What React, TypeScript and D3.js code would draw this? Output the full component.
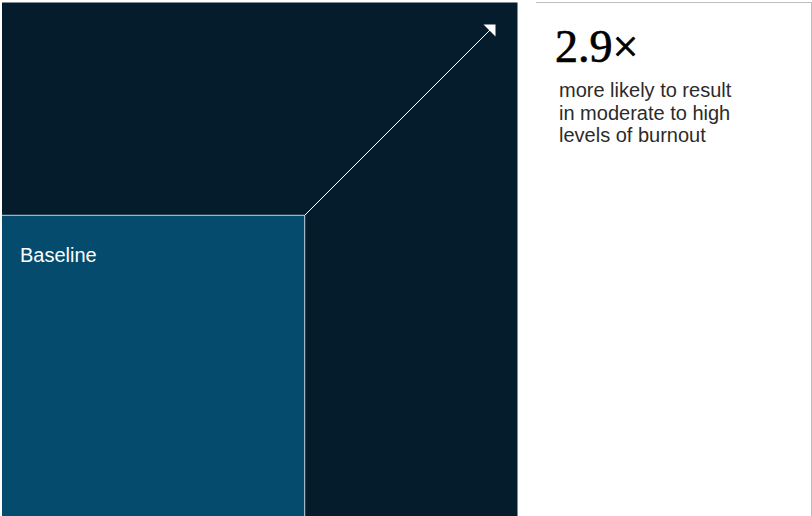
import React from "react";
import * as d3 from "d3";

const categories = ["Baseline", "Comparison"];
const values = [1, 2.9];
const headline = "2.9×";
const descriptionLines = ["more likely to result", "in moderate to high", "levels of burnout"];

const W = 812;
const H = 516;

export default function App() {
  const side = d3.scaleSqrt().domain([0, 2.9]).range([0, 515.5]);
  const x0 = 2;
  const yBottom = 518;
  const sBase = side(values[0]);
  const sComp = side(values[1]);

  const outer = { x: x0, y: yBottom - sComp, w: sComp, h: sComp };
  const inner = { x: x0, y: yBottom - sBase, w: sBase, h: sBase };

  const startX = inner.x + inner.w;
  const startY = inner.y;
  const inset = 22;
  const endX = outer.x + outer.w - inset;
  const endY = outer.y + inset;
  const head = 12;
  const lineEnd = [endX - 5, endY + 5];

  const line = d3.line();

  return (
    <div style={{ position: "absolute", left: 0, top: 0 }}>
      <svg width={W} height={H} style={{ display: "block" }}>
        <rect x={0} y={0} width={W} height={H} fill="#ffffff" />
        <rect x={outer.x} y={outer.y} width={outer.w} height={outer.h} fill="#051c2c" />
        <rect x={inner.x} y={inner.y} width={inner.w} height={inner.h} fill="#044b6e" />
        <path
          d={line([
            [inner.x, inner.y],
            [inner.x + inner.w, inner.y],
            [inner.x + inner.w, inner.y + inner.h],
          ]) || ""}
          fill="none"
          stroke="#c9d6df"
          strokeWidth={1}
        />
        <path
          d={line([[startX, startY], lineEnd as [number, number]]) || ""}
          stroke="#ffffff"
          strokeWidth={1}
          fill="none"
        />
        <path
          d={line([
            [endX - head, endY],
            [endX, endY],
            [endX, endY + head],
          ]) + "Z"}
          fill="#ffffff"
        />
        <text
          x={inner.x + 18}
          y={inner.y + 47}
          fill="#ffffff"
          fontFamily="Liberation Sans, Arial, sans-serif"
          fontSize={20}
        >
          {categories[0]}
        </text>

        <line x1={536} x2={811} y1={2.5} y2={2.5} stroke="#bdbdbd" strokeWidth={1} />
        <line x1={811.5} x2={811.5} y1={2} y2={H} stroke="#bdbdbd" strokeWidth={1} />

        <text
          x={555}
          y={62}
          fill="#000000"
          stroke="#000000"
          strokeWidth={0.7}
          fontFamily="Liberation Serif, Times New Roman, serif"
          fontSize={46}
        >
          {headline}
        </text>
        {descriptionLines.map((t, i) => (
          <text
            key={i}
            x={559}
            y={97 + i * 22.5}
            fill="#2b2b2b"
            fontFamily="Liberation Sans, Arial, sans-serif"
            fontSize={20}
          >
            {t}
          </text>
        ))}
      </svg>
    </div>
  );
}
